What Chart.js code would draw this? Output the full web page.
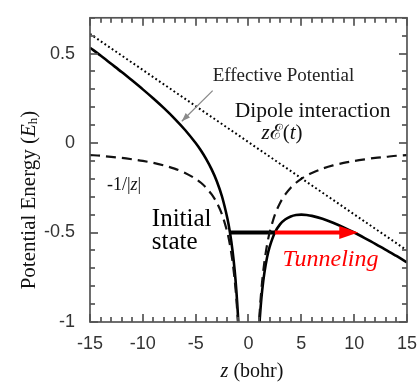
<!DOCTYPE html>
<html>
<head>
<meta charset="utf-8">
<script src="https://cdn.jsdelivr.net/npm/chart.js@4.4.1/dist/chart.umd.min.js"></script>
<style>
  html, body { margin: 0; padding: 0; background: #fff; }
  #wrap { width: 420px; height: 382px; }
</style>
</head>
<body>
<div id="wrap"><canvas id="chart"></canvas></div>
<script>
// z (bohr) sample points, gap at the nucleus
const zPts = [-15, -14, -13, -12, -11, -10, -9, -8, -7, -6, -5, -4.5, -4, -3.5, -3, -2.5, -2, -1.75, -1.5, -1.3, -1.15, -1, -0.9, -0.8,
              0,
              0.8, 0.9, 1, 1.15, 1.3, 1.5, 1.75, 2, 2.5, 3, 3.5, 4, 4.5, 5, 5.5, 6, 7, 8, 9, 10, 11, 12, 13, 14, 15];
// -1/|z| (dashed)
const coulomb = [-0.067, -0.071, -0.077, -0.083, -0.091, -0.100, -0.111, -0.125, -0.143, -0.167, -0.200, -0.222, -0.250, -0.286, -0.333, -0.400, -0.500, -0.571, -0.667, -0.769, -0.870, -1.000, -1.111, -1.250,
                 null,
                 -1.250, -1.111, -1.000, -0.870, -0.769, -0.667, -0.571, -0.500, -0.400, -0.333, -0.286, -0.250, -0.222, -0.200, -0.182, -0.167, -0.143, -0.125, -0.111, -0.100, -0.091, -0.083, -0.077, -0.071, -0.067];
// effective potential (solid)
const effective = [0.533, 0.489, 0.443, 0.397, 0.349, 0.300, 0.249, 0.195, 0.137, 0.073, 0.000, -0.042, -0.090, -0.146, -0.213, -0.300, -0.420, -0.501, -0.607, -0.717, -0.824, -0.960, -1.075, -1.218,
                   null,
                   -1.282, -1.147, -1.040, -0.916, -0.821, -0.727, -0.641, -0.580, -0.500, -0.453, -0.426, -0.410, -0.402, -0.400, -0.402, -0.407, -0.423, -0.445, -0.471, -0.500, -0.531, -0.563, -0.597, -0.631, -0.667];
// dipole interaction z*E(t) (dotted)
const dipoleZ = [-15, 15];
const dipoleE = [0.61, -0.6];
// initial state level and tunneling arrow
const initZ = [-1.75, 2.5];
const initE = [-0.5, -0.5];
const tunnelZ = [2.5, 10.2];
const tunnelE = [-0.5, -0.5];

const xTickLabels = { '-15': '-15', '-10': '-10', '-5': '-5', '0': '0', '5': '5', '10': '10', '15': '15' };
const yTickLabels = { '-10': '-1', '-5': '-0.5', '0': '0', '5': '0.5' };

const pts = (xs, ys) => xs.map((x, i) => ({ x: x, y: ys[i] }));

const SERIF = '"Liberation Serif", "Times New Roman", serif';
const SANS = '"Liberation Sans", Arial, sans-serif';

function drawRuns(ctx, runs, x, y, align) {
    let w = 0;
    runs.forEach(r => { ctx.font = r[1]; w += ctx.measureText(r[0]).width; });
    let cx = align === 'center' ? x - w / 2 : x;
    runs.forEach(r => {
        ctx.font = r[1];
        ctx.fillText(r[0], cx, y + (r[2] || 0));
        cx += ctx.measureText(r[0]).width;
    });
}

const decorPlugin = {
    id: 'decor',
    afterDatasetsDraw(chart) {
        const ctx = chart.ctx;
        const xs = chart.scales.x, ys = chart.scales.y;
        const X = v => xs.getPixelForValue(v), Y = v => ys.getPixelForValue(v);
        ctx.save();

        // red tunneling arrow
        const x0 = X(tunnelZ[0]), x1 = X(tunnelZ[1]), yy = Y(tunnelE[0]);
        ctx.strokeStyle = '#ff0000';
        ctx.fillStyle = '#ff0000';
        ctx.lineWidth = 4;
        ctx.beginPath();
        ctx.moveTo(x0, yy);
        ctx.lineTo(x1 - 14, yy);
        ctx.stroke();
        ctx.beginPath();
        ctx.moveTo(x1 + 2, yy);
        ctx.lineTo(x1 - 17, yy - 6.5);
        ctx.lineTo(x1 - 17, yy + 6.5);
        ctx.closePath();
        ctx.fill();

        // pointer to effective potential
        const ax0 = X(-3.39), ay0 = Y(0.293), ax1 = X(-6.31), ay1 = Y(0.122);
        ctx.strokeStyle = '#8a8a8a';
        ctx.fillStyle = '#8a8a8a';
        ctx.lineWidth = 1.3;
        ctx.beginPath();
        ctx.moveTo(ax0, ay0);
        ctx.lineTo(ax1, ay1);
        ctx.stroke();
        const ang = Math.atan2(ay1 - ay0, ax1 - ax0);
        ctx.beginPath();
        ctx.moveTo(ax1, ay1);
        ctx.lineTo(ax1 - 9 * Math.cos(ang - 0.35), ay1 - 9 * Math.sin(ang - 0.35));
        ctx.lineTo(ax1 - 9 * Math.cos(ang + 0.35), ay1 - 9 * Math.sin(ang + 0.35));
        ctx.closePath();
        ctx.fill();

        // texts
        ctx.textBaseline = 'middle';
        ctx.textAlign = 'left';
        ctx.fillStyle = '#222';
        drawRuns(ctx, [['Effective Potential', '19px ' + SERIF]], X(-3.39), Y(0.375));
        ctx.fillStyle = '#111';
        drawRuns(ctx, [['Dipole interaction', '21.5px ' + SERIF]], X(-1.31), Y(0.177));
        drawRuns(ctx, [['z', 'italic 21px ' + SERIF], ['ℰ', '21px ' + SERIF], ['(', '21px ' + SERIF],
                       ['t', 'italic 21px ' + SERIF], [')', '21px ' + SERIF]], X(1.24), Y(0.056));
        drawRuns(ctx, [['-1/|', '18px ' + SERIF], ['z', 'italic 18px ' + SERIF], ['|', '18px ' + SERIF]], X(-13.4), Y(-0.235));
        ctx.fillStyle = '#000';
        drawRuns(ctx, [['Initial', '25px ' + SERIF]], X(-9.15), Y(-0.428));
        drawRuns(ctx, [['state', '25px ' + SERIF]], X(-9.15), Y(-0.554));
        ctx.fillStyle = '#ff0000';
        drawRuns(ctx, [['Tunneling', 'italic 24px ' + SERIF]], X(3.22), Y(-0.653));
        ctx.restore();
    },
    afterDraw(chart) {
        const ctx = chart.ctx;
        const a = chart.chartArea;
        const xs = chart.scales.x, ys = chart.scales.y;
        ctx.save();
        // inward ticks on all four sides
        ctx.fillStyle = '#555';
        for (let v = -15; v <= 15; v++) {
            const px = Math.round(xs.getPixelForValue(v));
            const len = v % 5 === 0 ? 8 : 5;
            ctx.fillRect(px - 0.85, a.bottom - len, 1.7, len);
            ctx.fillRect(px - 0.85, a.top, 1.7, len);
        }
        for (let k = -10; k <= 7; k++) {
            const py = Math.round(ys.getPixelForValue(k / 10));
            const len = k % 5 === 0 ? 8 : 5;
            ctx.fillRect(a.left, py - 0.85, len, 1.7);
            ctx.fillRect(a.right - len, py - 0.85, len, 1.7);
        }
        ctx.strokeStyle = '#555';
        ctx.lineWidth = 1.7;
        ctx.strokeRect(a.left, a.top, a.right - a.left, a.bottom - a.top);

        // axis titles
        ctx.fillStyle = '#111';
        ctx.textBaseline = 'middle';
        drawRuns(ctx, [['z', 'italic 20px ' + SERIF], [' (bohr)', '20px ' + SERIF]], 252, 372, 'center');
        ctx.translate(29, 200);
        ctx.rotate(-Math.PI / 2);
        drawRuns(ctx, [['Potential Energy (', '21px ' + SERIF], ['E', 'italic 21px ' + SERIF],
                       ['h', '13px ' + SERIF, 5], [')', '21px ' + SERIF]], 0, 0, 'center');
        ctx.restore();
    }
};

new Chart(document.getElementById('chart'), {
    type: 'line',
    data: {
        datasets: [
            { data: pts(dipoleZ, dipoleE), borderColor: '#000', borderWidth: 2, borderDash: [1.8, 2.6], pointRadius: 0 },
            { data: pts(zPts, coulomb), borderColor: '#111', borderWidth: 2.2, borderDash: [10, 6], pointRadius: 0, tension: 0.3, spanGaps: false },
            { data: pts(zPts, effective), borderColor: '#000', borderWidth: 2.6, pointRadius: 0, tension: 0.3, spanGaps: false },
            { data: pts(initZ, initE), borderColor: '#000', borderWidth: 4, pointRadius: 0 }
        ]
    },
    options: {
        responsive: true,
        maintainAspectRatio: false,
        animation: false,
        layout: { padding: { top: 13, right: 12, left: 0, bottom: 0 } },
        plugins: { legend: { display: false }, tooltip: { enabled: false } },
        scales: {
            x: {
                type: 'linear', min: -15, max: 15,
                grid: { display: false }, border: { display: false },
                ticks: {
                    stepSize: 1, autoSkip: false, maxRotation: 0, padding: 3, color: '#333',
                    font: { family: SANS, size: 18 },
                    callback: v => xTickLabels[String(Math.round(v))] || ''
                },
                afterFit: s => { s.height = 60; }
            },
            y: {
                min: -1, max: 0.7,
                grid: { display: false }, border: { display: false },
                ticks: {
                    stepSize: 0.1, autoSkip: false, padding: 7, color: '#333',
                    font: { family: SANS, size: 18 },
                    callback: v => yTickLabels[String(Math.round(v * 10))] || ''
                },
                afterFit: s => { s.width = 90; }
            }
        }
    },
    plugins: [decorPlugin]
});
</script>
</body>
</html>
